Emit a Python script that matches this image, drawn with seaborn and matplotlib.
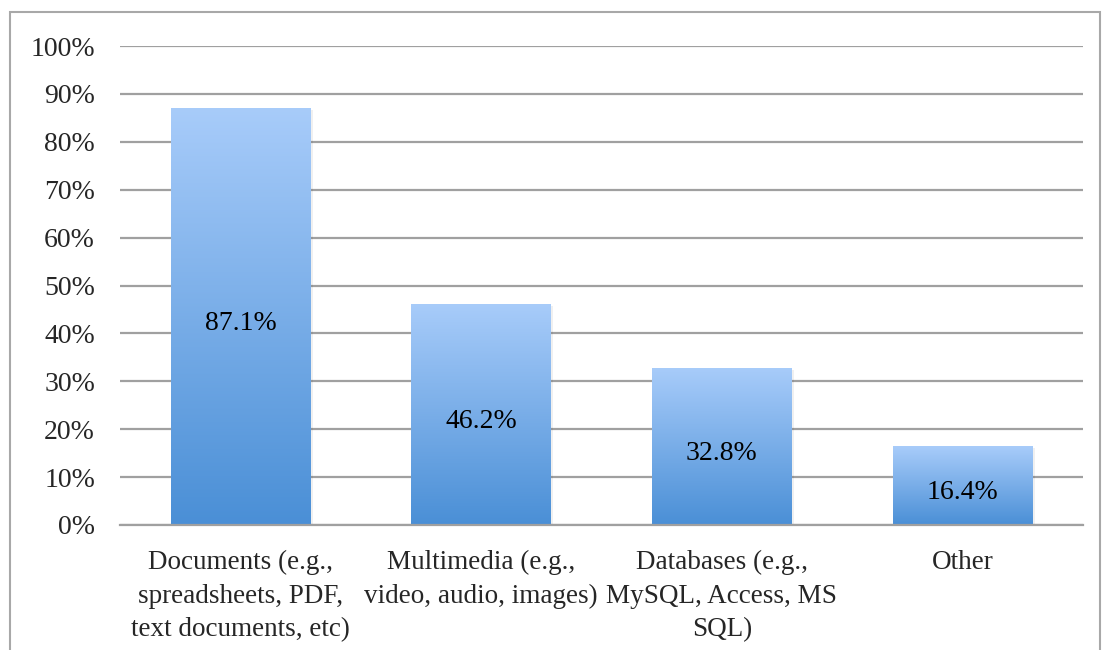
import numpy as np
import seaborn as sns
import matplotlib.pyplot as plt
from matplotlib.colors import LinearSegmentedColormap
from matplotlib.patches import Rectangle
from matplotlib.ticker import FuncFormatter

# data
categories = ["Documents (e.g.,\nspreadsheets, PDF,\ntext documents, etc)",
              "Multimedia (e.g.,\nvideo, audio, images)",
              "Databases (e.g.,\nMySQL, Access, MS\nSQL)",
              "Other"]
values = [87.1, 46.2, 32.8, 16.4]
labels = ["87.1%", "46.2%", "32.8%", "16.4%"]

sns.set_style("white")
plt.rcParams['font.family'] = ['Liberation Serif', 'DejaVu Serif']

fig = plt.figure(figsize=(11.04, 6.5), dpi=100)
ax = fig.add_axes([120/1104, 1-525/650, (1083-120)/1104, (525-46)/650])

sns.barplot(x=categories, y=values, width=0.58, color="#7aaee8", ax=ax)

# gradient fill for each bar (light at top, darker at bottom)
grad_cmap = LinearSegmentedColormap.from_list("bluegrad", ["#4a8fd6", "#a8ccfa"])
grad = np.linspace(0, 1, 256).reshape(-1, 1)
for i, p in enumerate(ax.patches):
    x0, y0 = p.get_x(), p.get_y()
    w, h = p.get_width(), p.get_height()
    # faint shadow
    sh = Rectangle((x0 + 0.01, y0), w, h - 0.4, facecolor="#000000", alpha=0.06,
                   edgecolor="none", zorder=1.5)
    ax.add_patch(sh)
    p.set_facecolor("none")
    p.set_edgecolor("none")
    p.set_zorder(3)
    im = ax.imshow(grad, extent=[x0, x0 + w, y0, y0 + h], origin="lower",
                   cmap=grad_cmap, aspect="auto", zorder=2)
    im.set_clip_path(p)
    ax.text(x0 + w / 2, y0 + h / 2 - 1.4, labels[i],
            ha="center", va="center", fontsize=20, color="black", zorder=4)

ax.set_xlim(-0.5, 3.5)
ax.set_ylim(0, 100)
ax.set_yticks(np.arange(0, 101, 10))
ax.yaxis.set_major_formatter(FuncFormatter(lambda v, _: f"{v:.0f}%"))
ax.grid(axis="y", color="#a0a0a0", linewidth=1.6)
ax.set_axisbelow(True)
for s in ["top", "right", "left"]:
    ax.spines[s].set_visible(False)
ax.spines["bottom"].set_color("#a0a0a0")
ax.spines["bottom"].set_linewidth(1.6)
ax.tick_params(axis="y", length=0, pad=18, labelsize=20)
ax.tick_params(axis="x", length=0, pad=18, labelsize=19.5)
for t in ax.get_xticklabels():
    t.set_linespacing(1.45)

# outer chart border
border = Rectangle((10/1104, -0.05), (1100-10)/1104, 1.05 - 12/650, transform=fig.transFigure,
                   facecolor="none", edgecolor="#a8a8a8", linewidth=1.5, clip_on=False)
fig.patches.append(border)

fig.savefig("out.png", dpi=100)
